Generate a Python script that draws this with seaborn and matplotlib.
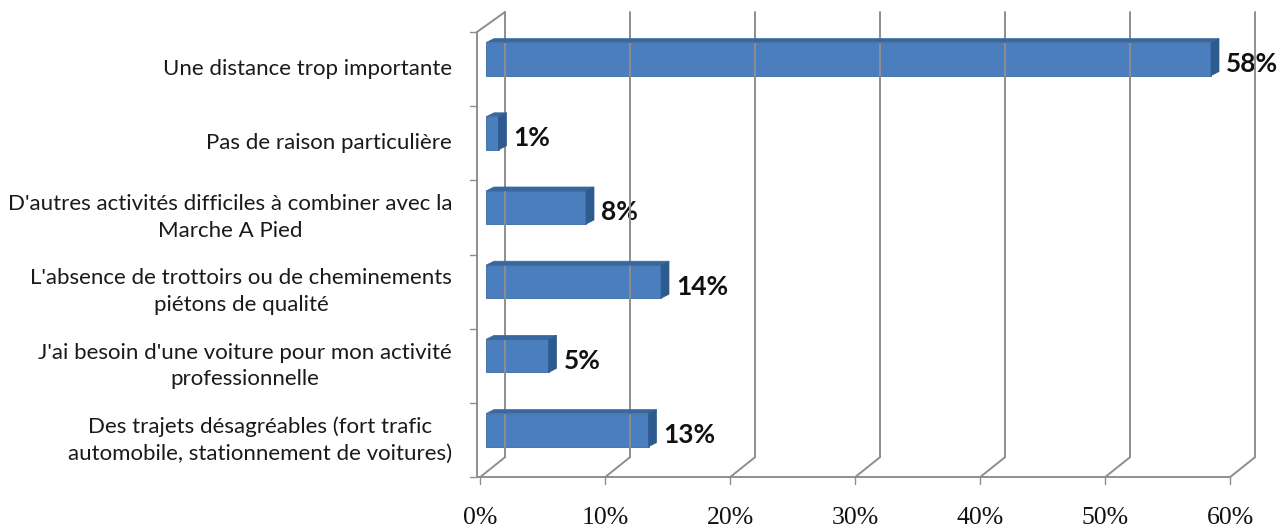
import matplotlib
matplotlib.use("Agg")
import matplotlib.pyplot as plt
import matplotlib.transforms as mtransforms
from matplotlib.patches import Polygon
from matplotlib.lines import Line2D
import seaborn as sns

# ---- data ----
categories = [
    "Une distance trop importante",
    "Pas de raison particulière",
    "D'autres activités difficiles à combiner avec la\nMarche A Pied",
    "L'absence de trottoirs ou de cheminements\npiétons de qualité",
    "J'ai besoin d'une voiture pour mon activité\nprofessionnelle",
    "Des trajets désagréables (fort trafic\nautomobile, stationnement de voitures)",
]
values = [58, 1, 8, 14, 5, 13]
value_labels = ["58%", "1%", "8%", "14%", "5%", "13%"]
tick_values = [0, 10, 20, 30, 40, 50, 60]
tick_labels = ["0%", "10%", "20%", "30%", "40%", "50%", "60%"]

# ---- styling ----
W, H, DPI = 1284, 530, 100
FRONT = "#4A7EBD"
TOP = "#39679F"
SIDE = "#2D5A8F"
GRID = "#8E8E8E"
BAR_H = 0.445
WALL = (25, -20)      # depth of the back wall, in pixels (right, up)
BAR_OFF = (6, -10)    # bars sit a little into the depth
BAR_D = (8, -4)       # depth of each bar

sns.set_theme(style="white")
plt.rcParams["font.family"] = ["Lato", "DejaVu Sans"]

fig = plt.figure(figsize=(W / DPI, H / DPI), dpi=DPI)
ax = fig.add_axes([0, 0, 1, 1])

sns.barplot(x=values, y=categories, orient="h", color=FRONT, saturation=1,
            width=BAR_H, ax=ax, zorder=3)

# axis scale: 0% at x=480 px, 12.5 px per percent; categories 74.2 px apart
x0_px, ppx = 480.0, 12.5
y0_px, ppy = 69.1, 74.2
ax.set_xlim(-x0_px / ppx, (W - x0_px) / ppx)
ax.set_ylim((H - y0_px) / ppy, -y0_px / ppy)
ax.axis("off")


def disp(x, y, dx=0.0, dy=0.0):
    """Data point -> display pixels, with an offset in image pixels (dy down)."""
    px, py = ax.transData.transform((x, y))
    return (px + dx, py - dy)


def shifted(dx, dy):
    return ax.transData + mtransforms.ScaledTranslation(dx / DPI, -dy / DPI,
                                                        fig.dpi_scale_trans)


def seg(p, q, **kw):
    kw.setdefault("color", GRID)
    kw.setdefault("lw", 1.4)
    kw.setdefault("zorder", 1)
    fig.add_artist(Line2D([p[0], q[0]], [p[1], q[1]], transform=None, **kw))


top_c, bot_c = -0.5, len(categories) - 0.5

# back-wall gridlines with their perspective foot on the floor
for t in tick_values:
    seg(disp(t, top_c, *WALL), disp(t, bot_c, *WALL))
    seg(disp(t, bot_c, *WALL), disp(t, bot_c))
    seg(disp(t, bot_c), disp(t, bot_c, 0, 7), lw=1.0)

# floor front edge, left wall edges
seg(disp(0, bot_c, -3, 0), disp(tick_values[-1], bot_c))
seg(disp(0, top_c, -3, 0), disp(0, bot_c, -3, 0))
seg(disp(0, top_c, -3, 0), disp(0, top_c, *WALL))
for k in range(len(categories) + 1):
    seg(disp(0, top_c + k, -10, 0), disp(0, top_c + k, -3, 0), lw=1.0)

# 3D bars: shift the seaborn front faces, add top and side faces
for i, (patch, v) in enumerate(zip(ax.patches, values)):
    patch.set_transform(shifted(*BAR_OFF))
    patch.set_edgecolor("#3A6AA6")
    patch.set_linewidth(0.6)
    yt, yb = i - BAR_H / 2, i + BAR_H / 2
    fx, fy = BAR_OFF
    bx, by = fx + BAR_D[0], fy + BAR_D[1]
    top = [disp(0, yt, fx, fy), disp(v, yt, fx, fy),
           disp(v, yt, bx, by), disp(0, yt, bx, by)]
    side = [disp(v, yt, fx, fy), disp(v, yb, fx, fy),
            disp(v, yb, bx, by), disp(v, yt, bx, by)]
    fig.add_artist(Polygon(top, closed=True, transform=None, facecolor=TOP,
                           edgecolor=TOP, lw=0.5, zorder=4))
    fig.add_artist(Polygon(side, closed=True, transform=None, facecolor=SIDE,
                           edgecolor=SIDE, lw=0.5, zorder=4))
    ax.text(v, i, value_labels[i], transform=shifted(bx + 7, fy + 5),
            ha="left", va="center", fontsize=19, fontweight="bold",
            color="#111111", zorder=5)

# category labels
for i, cat in enumerate(categories):
    ax.text(0, i, cat, transform=shifted(-28, 0), ha="right", va="center",
            multialignment="center", fontsize=16, color="#1a1a1a",
            linespacing=1.4)

# percentage axis labels
for t, lab in zip(tick_values, tick_labels):
    ax.text(t, bot_c, lab, transform=shifted(0, 41), ha="center", va="center",
            fontsize=18.5, family=["Liberation Serif", "DejaVu Serif"],
            color="#111111")

fig.savefig("out.png", dpi=DPI, facecolor="white")
